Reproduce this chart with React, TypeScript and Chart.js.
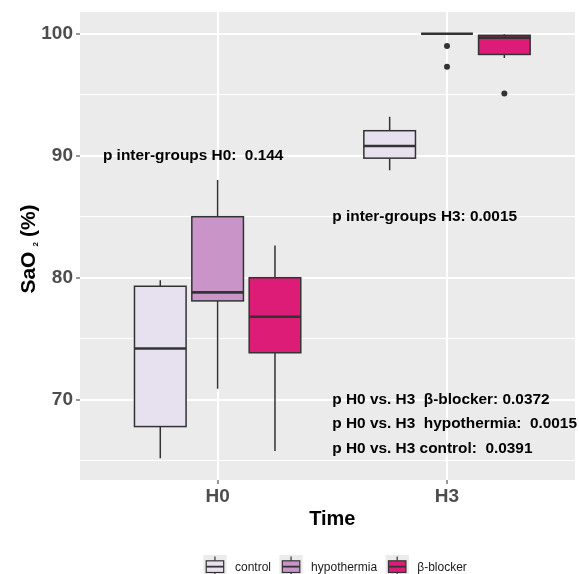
import React, { useEffect, useRef } from 'react';
import { Chart, registerables } from 'chart.js';

Chart.register(...registerables);

const FONT = "'Liberation Sans', Arial, Helvetica, sans-serif";

const timepoints = ['H0', 'H3'];
const groups = ['control', 'hypothermia', 'β-blocker'];
const groupColors = ['#e7e1ef', '#c994c7', '#dd1c77'];
const groupOffsets = [-0.25, 0, 0.25];
const boxWidth = 0.225;

// [lower whisker, Q1, median, Q3, upper whisker] at H0, H3
const controlStats = [
  [65.2, 67.8, 74.2, 79.3, 79.8],
  [88.8, 89.8, 90.8, 92.05, 93.2],
];
const hypothermiaStats = [
  [70.9, 78.1, 78.8, 85.0, 88.0],
  [100, 100, 100, 100, 100],
];
const betaBlockerStats = [
  [65.8, 73.85, 76.8, 80.0, 82.65],
  [98.0, 98.3, 99.68, 99.87, 99.95],
];

const controlOutliers = [[], []];
const hypothermiaOutliers = [[], [99.0, 97.3]];
const betaBlockerOutliers = [[], [95.1]];

const yTickValues = [65, 70, 75, 80, 85, 90, 95, 100];

const annotationTexts = [
  'p inter-groups H0:  0.144',
  'p inter-groups H3: 0.0015',
  'p H0 vs. H3  β-blocker: 0.0372',
  'p H0 vs. H3  hypothermia:  0.0015',
  'p H0 vs. H3 control:  0.0391',
];
const annotationX = [-0.5, 0.5, 0.5, 0.5, 0.5];
const annotationY = [90, 85, 70, 68, 66];

const groupStats = [controlStats, hypothermiaStats, betaBlockerStats];
const groupOutliers = [controlOutliers, hypothermiaOutliers, betaBlockerOutliers];

const panelPlugin = {
  id: 'panelBg',
  beforeDraw(chart: any) {
    const { ctx, chartArea: a } = chart;
    ctx.save();
    ctx.fillStyle = '#ffffff';
    ctx.fillRect(0, 0, chart.width, chart.height);
    ctx.fillStyle = '#ebebeb';
    ctx.fillRect(a.left, a.top, a.right - a.left, a.bottom - a.top);
    ctx.restore();
  },
};

const boxPlugin = {
  id: 'boxes',
  beforeDatasetsDraw(chart: any) {
    const { ctx } = chart;
    const x = chart.scales.x;
    const y = chart.scales.y;
    groupStats.forEach((stats, g) => {
      stats.forEach((s, t) => {
        const [lo, q1, med, q3, hi] = s;
        const c = t + groupOffsets[g];
        const cx = x.getPixelForValue(c);
        const xl = x.getPixelForValue(c - boxWidth / 2);
        const xr = x.getPixelForValue(c + boxWidth / 2);
        const yLo = y.getPixelForValue(lo);
        const yQ1 = y.getPixelForValue(q1);
        const yMed = y.getPixelForValue(med);
        const yQ3 = y.getPixelForValue(q3);
        const yHi = y.getPixelForValue(hi);
        ctx.save();
        ctx.strokeStyle = '#333333';
        ctx.lineWidth = 1.5;
        ctx.beginPath();
        ctx.moveTo(cx, yHi);
        ctx.lineTo(cx, yQ3);
        ctx.moveTo(cx, yQ1);
        ctx.lineTo(cx, yLo);
        ctx.stroke();
        ctx.fillStyle = groupColors[g];
        ctx.fillRect(xl, yQ3, xr - xl, yQ1 - yQ3);
        ctx.strokeRect(xl, yQ3, xr - xl, yQ1 - yQ3);
        ctx.lineWidth = 2.6;
        ctx.beginPath();
        ctx.moveTo(xl, yMed);
        ctx.lineTo(xr, yMed);
        ctx.stroke();
        ctx.restore();
      });
    });
  },
};

const textPlugin = {
  id: 'texts',
  afterDraw(chart: any) {
    const { ctx, chartArea: a } = chart;
    const x = chart.scales.x;
    const y = chart.scales.y;
    ctx.save();
    // annotations
    ctx.fillStyle = '#000000';
    ctx.font = `bold 15.4px ${FONT}`;
    ctx.textAlign = 'left';
    ctx.textBaseline = 'middle';
    annotationTexts.forEach((txt, i) => {
      ctx.fillText(txt, x.getPixelForValue(annotationX[i]), y.getPixelForValue(annotationY[i]));
    });

    // x title
    ctx.font = `bold 20px ${FONT}`;
    ctx.textAlign = 'center';
    ctx.textBaseline = 'middle';
    ctx.fillText('Time', x.getPixelForValue(0.5), 519);

    // y title with subscript, rotated
    const mainFont = `bold 21px ${FONT}`;
    const subFont = `bold 8px ${FONT}`;
    ctx.font = mainFont;
    const w1 = ctx.measureText('SaO').width;
    const w3 = ctx.measureText('(%)').width;
    ctx.font = subFont;
    const w2 = ctx.measureText('2').width;
    const gap1 = 5;
    const gap2 = 5;
    const total = w1 + gap1 + w2 + gap2 + w3;
    const cy = (a.top + a.bottom) / 2 + 3;
    ctx.translate(35, cy);
    ctx.rotate(-Math.PI / 2);
    ctx.textAlign = 'left';
    ctx.textBaseline = 'alphabetic';
    let pos = -total / 2;
    ctx.font = mainFont;
    ctx.fillText('SaO', pos, 0);
    pos += w1 + gap1;
    ctx.font = subFont;
    ctx.fillText('2', pos, 3.3);
    pos += w2 + gap2;
    ctx.font = mainFont;
    ctx.fillText('(%)', pos, 0);
    ctx.setTransform(1, 0, 0, 1, 0, 0);

    // legend
    const keySize = 23.3;
    const keyTop = 555;
    let lx = 203.3;
    ctx.font = `12px ${FONT}`;
    groups.forEach((name, g) => {
      ctx.fillStyle = '#ebebeb';
      ctx.fillRect(lx, keyTop, keySize, keySize);
      const bx1 = lx + keySize * 0.125;
      const bx2 = lx + keySize * 0.875;
      const cxk = lx + keySize / 2;
      ctx.strokeStyle = '#333333';
      ctx.lineWidth = 1.2;
      ctx.beginPath();
      ctx.moveTo(cxk, keyTop + keySize * 0.06);
      ctx.lineTo(cxk, keyTop + keySize * 0.25);
      ctx.moveTo(cxk, keyTop + keySize * 0.75);
      ctx.lineTo(cxk, keyTop + keySize * 0.94);
      ctx.stroke();
      ctx.fillStyle = groupColors[g];
      ctx.fillRect(bx1, keyTop + keySize * 0.25, bx2 - bx1, keySize * 0.5);
      ctx.strokeRect(bx1, keyTop + keySize * 0.25, bx2 - bx1, keySize * 0.5);
      ctx.lineWidth = 1.8;
      ctx.beginPath();
      ctx.moveTo(bx1, keyTop + keySize * 0.5);
      ctx.lineTo(bx2, keyTop + keySize * 0.5);
      ctx.stroke();
      ctx.fillStyle = '#1a1a1a';
      ctx.textAlign = 'left';
      ctx.textBaseline = 'middle';
      const tx = lx + keySize + 8.4;
      ctx.fillText(name, tx, keyTop + keySize / 2 + 1);
      lx = tx + ctx.measureText(name).width + 8.4;
    });
    ctx.restore();
  },
};

export default function App() {
  const ref = useRef<HTMLCanvasElement>(null);
  useEffect(() => {
    document.body.style.margin = '0';
    Chart.defaults.font.family = FONT;
    const datasets = groups.map((name, g) => ({
      label: name,
      data: groupOutliers[g].flatMap((vals, t) => vals.map((v) => ({ x: t + groupOffsets[g], y: v }))),
      pointRadius: 3,
      pointBackgroundColor: '#333333',
      pointBorderWidth: 0,
      showLine: false,
    }));
    const chart = new Chart(ref.current as HTMLCanvasElement, {
      type: 'scatter',
      data: { datasets },
      plugins: [panelPlugin, boxPlugin, textPlugin],
      options: {
        animation: false,
        responsive: false,
        events: [],
        layout: { padding: { top: 12, left: 0, right: 0, bottom: 0 } },
        plugins: {
          legend: { display: false },
          tooltip: { enabled: false },
          title: { display: false },
        },
        scales: {
          x: {
            type: 'linear',
            min: -0.6,
            max: 1.558,
            afterBuildTicks: (s: any) => {
              s.ticks = timepoints.map((_, i) => ({ value: i }));
            },
            afterFit: (s: any) => {
              s.height = 94;
              s.paddingLeft = 0;
              s.paddingRight = 0;
            },
            ticks: {
              autoSkip: false,
              maxRotation: 0,
              padding: 1,
              color: '#4d4d4d',
              font: { size: 19, weight: 'bold', family: FONT },
              callback: (v: any) => timepoints[Math.round(Number(v))] ?? '',
            },
            grid: {
              color: '#ffffff',
              lineWidth: 2,
              tickColor: '#333333',
              tickLength: 4,
              tickWidth: 1,
            },
            border: { display: false },
          },
          y: {
            type: 'linear',
            min: 63.42,
            max: 101.78,
            afterBuildTicks: (s: any) => {
              s.ticks = yTickValues.map((v) => ({ value: v }));
            },
            afterFit: (s: any) => {
              s.width = 80;
              s.paddingTop = 0;
              s.paddingBottom = 0;
            },
            ticks: {
              autoSkip: false,
              padding: 3,
              color: '#4d4d4d',
              font: { size: 19, weight: 'bold', family: FONT },
              callback: (v: any) => (Number(v) % 10 === 0 ? String(v) : ''),
            },
            grid: {
              color: '#ffffff',
              lineWidth: (c: any) => (c.tick && c.tick.value % 10 === 0 ? 2 : 1.1),
              tickColor: (c: any) => (c.tick && c.tick.value % 10 === 0 ? '#333333' : 'rgba(0,0,0,0)'),
              tickLength: 4,
              tickWidth: 1,
            },
            border: { display: false },
          },
        },
      } as any,
    });
    return () => chart.destroy();
  }, []);
  return (
    <div style={{ position: 'absolute', left: 0, top: 0, width: 579, height: 574 }}>
      <canvas ref={ref} width={579} height={574} style={{ width: 579, height: 574, display: 'block' }} />
    </div>
  );
}
